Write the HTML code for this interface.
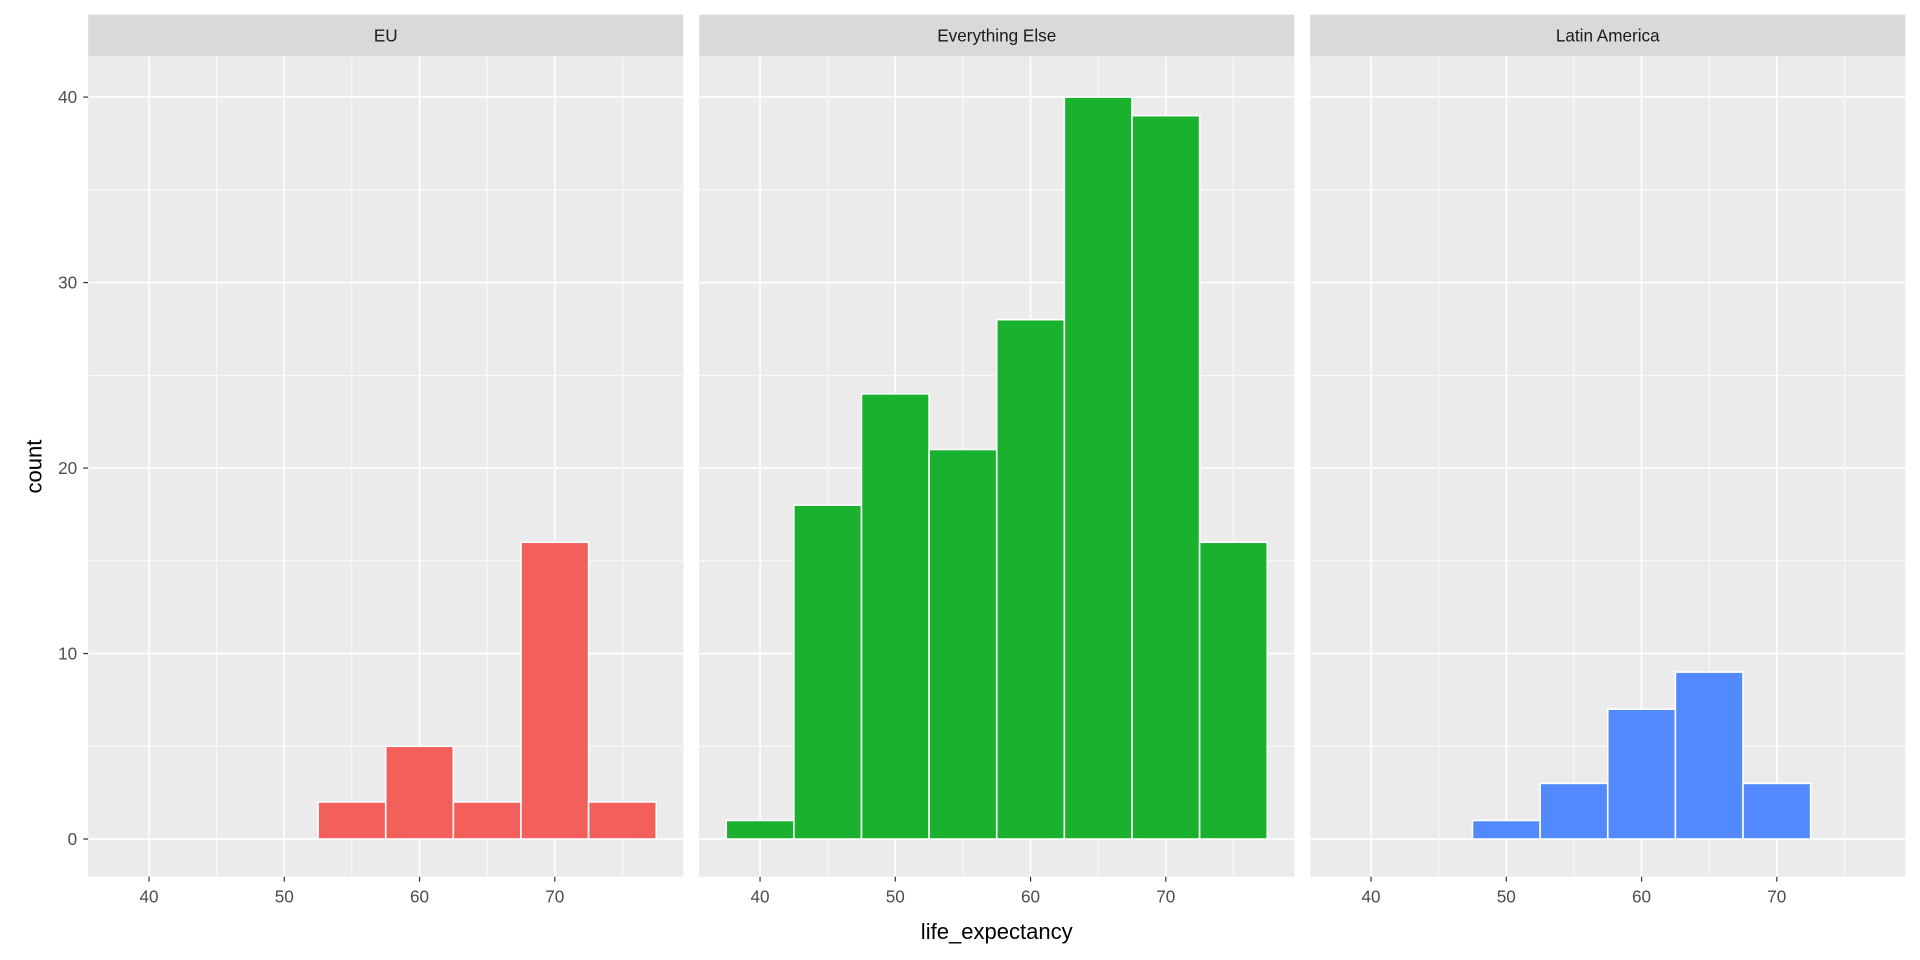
<!DOCTYPE html>
<html><head><meta charset="utf-8">
<style>
html,body{margin:0;padding:0;background:#fff;overflow:hidden;}
svg{display:block;font-family:"Liberation Sans",Arial,sans-serif;}
</style></head>
<body>
<svg id="chart" width="1920" height="960" viewBox="0 0 1568 784" preserveAspectRatio="none"></svg>
<script>
const panelNames = ["EU", "Everything Else", "Latin America"];
const binCenters = [40, 45, 50, 55, 60, 65, 70, 75];
const countsEU = [0, 0, 0, 2, 5, 2, 16, 2];
const countsElse = [1, 18, 24, 21, 28, 40, 39, 16];
const countsLatAm = [0, 0, 1, 3, 7, 9, 3, 0];
const xTicks = [40, 50, 60, 70];
const yTicks = [0, 10, 20, 30, 40];
const fills = ["#F35F5A", "#1AB12F", "#5289FF"];

const allCounts = [countsEU, countsElse, countsLatAm];
const NS = "http://www.w3.org/2000/svg";
const svg = document.getElementById("chart");
function mk(tag, attrs, parent) {
  const e = document.createElementNS(NS, tag);
  for (const k in attrs) e.setAttribute(k, attrs[k]);
  (parent || svg).appendChild(e);
  return e;
}
const panelLefts = [72, 571, 1070], panelW = 486, panelTop = 46, panelBottom = 716;
const scaleTop = 49, scaleBottom = 715.5;
const xMin = 35.5, xMax = 79.5, yMin = -2, yMax = 42;
const binW = 5;
function xs(v, p) { return panelLefts[p] + (v - xMin) / (xMax - xMin) * panelW; }
function ys(v) { return scaleBottom - (v - yMin) / (yMax - yMin) * (scaleBottom - scaleTop); }

for (let p = 0; p < 3; p++) {
  const g = mk("g", {});
  
  
  const L = panelLefts[p];
  mk("rect", {x: L, y: panelTop, width: panelW, height: panelBottom - panelTop, fill: "#EBEBEB"}, g);
  for (let i = 0; i < yTicks.length - 1; i++) {
    const y = ys((yTicks[i] + yTicks[i + 1]) / 2);
    mk("line", {x1: L, x2: L + panelW, y1: y, y2: y, stroke: "#fff", "stroke-width": 0.6}, g);
  }
  for (let i = 0; i < xTicks.length; i++) {
    const x = xs(xTicks[i] + 5, p);
    mk("line", {x1: x, x2: x, y1: panelTop, y2: panelBottom, stroke: "#fff", "stroke-width": 0.6}, g);
  }
  yTicks.forEach(t => { const y = ys(t); mk("line", {x1: L, x2: L + panelW, y1: y, y2: y, stroke: "#fff", "stroke-width": 1.3}, g); });
  xTicks.forEach(t => { const x = xs(t, p); mk("line", {x1: x, x2: x, y1: panelTop, y2: panelBottom, stroke: "#fff", "stroke-width": 1.3}, g); });
  const counts = allCounts[p];
  binCenters.forEach((c, i) => {
    if (counts[i] <= 0) {
      mk("line", {x1: xs(c - binW / 2, p), x2: xs(c + binW / 2, p), y1: ys(0), y2: ys(0), stroke: "#fff", "stroke-width": 1.2}, g);
      return;
    }
    const r = mk("rect", {x: xs(c - binW / 2, p), y: ys(counts[i]), width: xs(c + binW / 2, p) - xs(c - binW / 2, p), height: ys(0) - ys(counts[i]), fill: fills[p], stroke: "#fff", "stroke-width": 1.3}, g);
    
    
  });
  const s = mk("rect", {x: L, y: 12, width: panelW, height: 34, fill: "#D9D9D9"}, g);
  
  
  const st = mk("text", {x: L + panelW / 2, y: 34, "text-anchor": "middle", "font-size": 14, fill: "#1A1A1A"}, g);
  st.textContent = panelNames[p];
  
  
  xTicks.forEach(t => {
    const x = xs(t, p);
    mk("line", {x1: x, x2: x, y1: panelBottom, y2: panelBottom + 4, stroke: "#333", "stroke-width": 1}, g);
    const tx = mk("text", {x: x, y: panelBottom + 21, "text-anchor": "middle", "font-size": 14, fill: "#4D4D4D"}, g);
    tx.textContent = t;
    
    
  });
}
yTicks.forEach(t => {
  const y = ys(t);
  mk("line", {x1: 68, x2: 72, y1: y, y2: y, stroke: "#333", "stroke-width": 1});
  const tx = mk("text", {x: 63, y: y + 5, "text-anchor": "end", "font-size": 14, fill: "#4D4D4D"});
  tx.textContent = t;
  
  
});
const xt = mk("text", {x: 814, y: 767, "text-anchor": "middle", "font-size": 18, fill: "#000"});
xt.textContent = "life_expectancy";


const yt = mk("text", {x: 0, y: 0, "text-anchor": "middle", "font-size": 18, fill: "#000", transform: "translate(34,381) rotate(-90)"});
yt.textContent = "count";


</script>
</body></html>
